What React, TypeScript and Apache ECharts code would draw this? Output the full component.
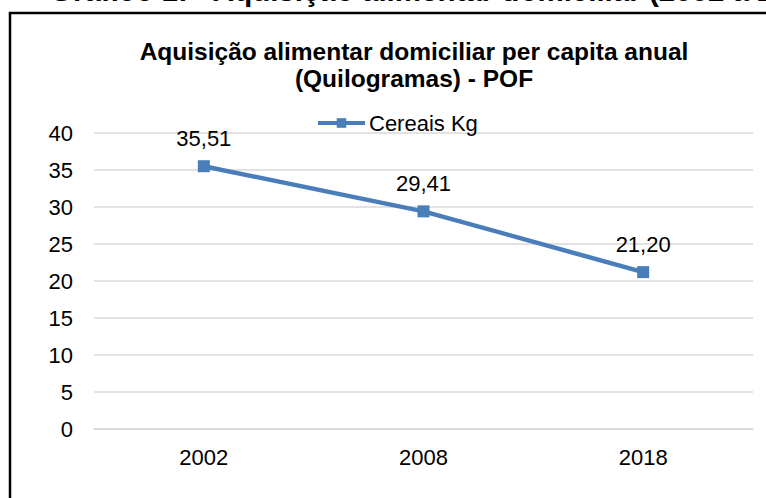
import React, { useEffect, useRef } from "react";
import * as echarts from "echarts";

const categories = ["2002", "2008", "2018"];
const cereaisKg = [35.51, 29.41, 21.2];
const seriesName = "Cereais Kg";
const chartTitle = "Aquisição alimentar domiciliar per capita anual\n(Quilogramas) - POF";
const figureCaption = "Gráfico 1: - Aquisição alimentar domiciliar (2002 a 2018)";

const FONT = "'Liberation Sans', Arial, sans-serif";

export default function App() {
  const ref = useRef<HTMLDivElement>(null);
  useEffect(() => {
    if (!ref.current) return;
    const chart = echarts.init(ref.current, null, { renderer: "svg" });
    chart.setOption({
      animation: false,
      backgroundColor: "#ffffff",
      title: {
        text: chartTitle,
        left: 414,
        top: 38,
        textAlign: "center",
        padding: 0,
        textStyle: {
          fontFamily: FONT,
          fontSize: 24.5,
          fontWeight: "bold",
          color: "#000000",
          lineHeight: 27,
        },
      },
      legend: {
        data: [seriesName],
        left: 316,
        top: 112,
        padding: 0,
        itemWidth: 47,
        itemHeight: 12,
        lineStyle: { width: 4 },
        textStyle: { fontFamily: FONT, fontSize: 22, color: "#000000", padding: [0, 0, 0, -1] },
      },
      grid: { left: 94, right: 13, top: 133, bottom: 69, containLabel: false },
      xAxis: {
        type: "category",
        data: categories,
        boundaryGap: true,
        axisLine: { show: true, lineStyle: { color: "#d9d9d9", width: 1.5 } },
        axisTick: { show: false },
        axisLabel: { fontFamily: FONT, fontSize: 22, color: "#000000", margin: 17 },
      },
      yAxis: {
        type: "value",
        min: 0,
        max: 40,
        interval: 5,
        axisLine: { show: false },
        axisTick: { show: false },
        axisLabel: { fontFamily: FONT, fontSize: 22, color: "#000000", margin: 21 },
        splitLine: { lineStyle: { color: "#d9d9d9", width: 1.5 } },
      },
      graphic: [
        {
          type: "rect",
          shape: { x: 10, y: 13, width: 900, height: 700 },
          style: { fill: "none", stroke: "#000000", lineWidth: 2.5 },
          silent: true,
        },
        {
          type: "text",
          x: 50,
          y: -9.5,
          style: {
            text: figureCaption,
            font: "bold 29.5px " + FONT,
            fill: "#000000",
            verticalAlign: "middle",
          },
          silent: true,
        },
      ],
      series: [
        {
          name: seriesName,
          type: "line",
          data: cereaisKg,
          symbol: "rect",
          symbolSize: 12,
          lineStyle: { color: "#4a7ebb", width: 4.5 },
          itemStyle: { color: "#4a7ebb" },
          label: {
            show: true,
            position: "top",
            distance: 11,
            fontFamily: FONT,
            fontSize: 22,
            color: "#000000",
            formatter: (p: any) => Number(p.value).toFixed(2).replace(".", ","),
          },
        },
      ],
    });
    return () => chart.dispose();
  }, []);
  return (
    <div
      ref={ref}
      style={{ position: "fixed", left: 0, top: 0, width: 766, height: 498 }}
    />
  );
}
